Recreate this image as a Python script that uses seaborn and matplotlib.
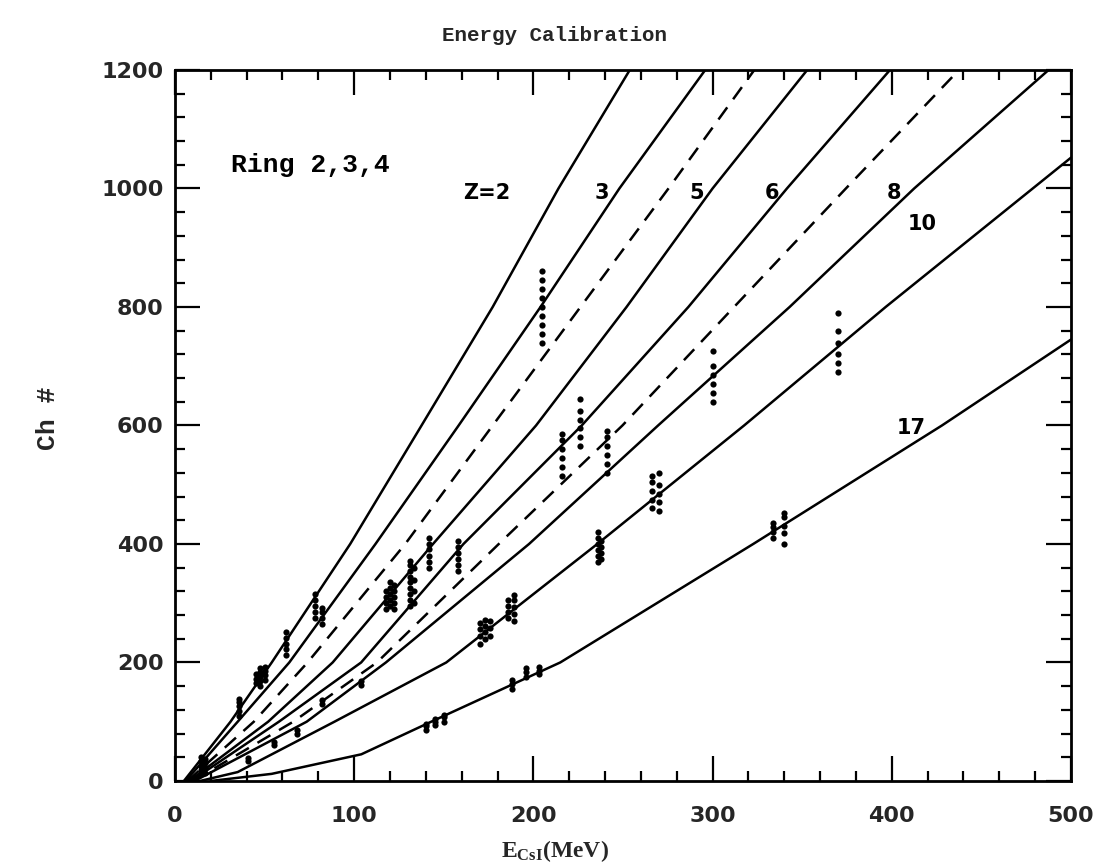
import matplotlib
matplotlib.use("Agg")
import matplotlib.pyplot as plt
import seaborn as sns
import pandas as pd
from matplotlib.ticker import MultipleLocator

# ---------------- data ----------------
CH_LEVELS = [0, 100, 200, 400, 600, 800, 1000, 1200]
E_Z2 = [5, 31, 54, 97.8, 137.6, 177.3, 214, 253.8]
E_Z3 = [6, 35, 63.8, 111.9, 158.3, 204, 248, 295.9]
E_Z4 = [7, 44, 74, 128.5, 177.3, 226.3, 275.4, 323.3]      # dashed
E_Z5 = [8, 52, 88, 144, 201.5, 252, 300, 352.8]
E_Z6 = [9, 58, 103.9, 161, 227, 286.5, 341.5, 399]
E_Z7 = [10, 66, 112.7, 180.7, 249.7, 312, 374.4, 437.5]    # dashed
E_Z8 = [11, 73.5, 117.7, 197.6, 269.6, 343, 412.5, 487.5]
E_Z10 = [14, 35, 89, 151.4, 235.7, 317.6, 396.6, 500]
CH_Z10 = [0, 15, 100, 200, 400, 600, 800, 1052]
E_Z17 = [20, 54, 104, 143, 215, 322.7, 428, 500]
CH_Z17 = [0, 12, 45, 100, 200, 400, 600, 745]

# measured calibration points: energy -> list of channel values
DATA_E = [14.5, 16.5, 36, 40.5, 45, 47.5, 50, 55, 62, 68, 78, 82, 82, 104,
          118, 120, 122, 131, 133.5, 140, 142, 145, 150, 158, 170, 173, 176,
          186, 188, 189, 196, 203, 205, 216, 226, 236, 238, 241, 266, 270,
          300, 334, 340, 370]
DATA_CH = [[18, 26, 34, 40], [14, 22, 30, 37], [110, 118, 126, 134, 138],
           [33, 38], [165, 172, 180], [160, 168, 176, 184, 190],
           [170, 178, 186, 193], [60, 66], [212, 222, 232, 242, 252], [80, 86],
           [275, 285, 295, 305, 315], [265, 275, 285, 292], [130, 136],
           [162, 168], [290, 300, 310, 320], [295, 305, 315, 325, 335],
           [290, 300, 310, 320, 330],
           [295, 305, 315, 325, 335, 345, 355, 365, 372], [300, 320, 340, 360],
           [86, 92, 96], [360, 370, 380, 392, 400, 410], [95, 100, 105],
           [100, 108, 112], [355, 365, 375, 385, 395, 405],
           [232, 244, 256, 266], [240, 252, 262, 272], [245, 258, 270],
           [275, 285, 295, 305], [156, 164, 170], [270, 282, 294, 306, 314],
           [176, 184, 190], [180, 186, 192],
           [740, 755, 770, 785, 800, 815, 830, 845, 860],
           [515, 530, 545, 560, 575, 585], [565, 580, 595, 610, 625, 645],
           [370, 380, 390, 400, 410, 420], [375, 385, 395, 405],
           [520, 535, 550, 565, 580, 590], [460, 475, 490, 505, 515],
           [455, 470, 485, 500, 520], [640, 655, 670, 685, 700, 725],
           [410, 420, 428, 435], [400, 418, 430, 445, 452],
           [690, 705, 720, 740, 760, 790]]

CURVE_LABELS = ["Z=2", "3", "5", "6", "8", "10", "17"]
LABEL_E = [174, 238, 291, 333, 401, 417, 411]
LABEL_CH = [993, 993, 993, 993, 993, 940, 596]

# ---------------- style ----------------
sns.set_style("ticks")
plt.rcParams["font.family"] = ["DejaVu Sans"]
plt.rcParams["mathtext.fontset"] = "custom"
plt.rcParams["mathtext.rm"] = "Liberation Serif"
plt.rcParams["mathtext.bf"] = "Liberation Serif:bold"

fig = plt.figure(figsize=(10.99, 8.66), dpi=100)
ax = fig.add_axes([0.1592, 0.0982, 0.8153, 0.821])

curves = [
    (E_Z2, CH_LEVELS, "-"), (E_Z3, CH_LEVELS, "-"), (E_Z4, CH_LEVELS, "--"),
    (E_Z5, CH_LEVELS, "-"), (E_Z6, CH_LEVELS, "-"), (E_Z7, CH_LEVELS, "--"),
    (E_Z8, CH_LEVELS, "-"), (E_Z10, CH_Z10, "-"), (E_Z17, CH_Z17, "-"),
]
for e, ch, ls in curves:
    df = pd.DataFrame({"E": e, "Ch": ch})
    sns.lineplot(data=df, x="E", y="Ch", ax=ax, color="black",
                 linewidth=1.8, sort=False, estimator=None)
    if ls == "--":
        ax.lines[-1].set_linestyle((0, (6, 4)))

pts = pd.DataFrame([(e, c) for e, cs in zip(DATA_E, DATA_CH) for c in cs],
                   columns=["E", "Ch"])
sns.scatterplot(data=pts, x="E", y="Ch", ax=ax, color="black", s=20,
                edgecolor="black", linewidth=0, zorder=5)

for t, x, y in zip(CURVE_LABELS, LABEL_E, LABEL_CH):
    ax.text(x, y, t, fontsize=15, ha="center", va="center",
            family="DejaVu Sans", fontweight="semibold", color="black")

ax.text(31, 1040, "Ring 2,3,4", fontsize=19, family="Liberation Mono",
        fontweight="bold", ha="left", va="center", color="black")

ax.set_xlim(0, 500)
ax.set_ylim(0, 1200)
ax.xaxis.set_major_locator(MultipleLocator(100))
ax.xaxis.set_minor_locator(MultipleLocator(20))
ax.yaxis.set_major_locator(MultipleLocator(200))
ax.yaxis.set_minor_locator(MultipleLocator(40))
ax.tick_params(which="both", direction="in", top=True, right=True,
               color="black", width=1.6)
ax.tick_params(which="major", length=18)
ax.tick_params(axis="x", which="major", pad=18)
ax.tick_params(axis="y", which="major", pad=8)
ax.tick_params(which="minor", length=7)
for lab in ax.get_xticklabels() + ax.get_yticklabels():
    lab.set_fontweight("bold")
    lab.set_family("DejaVu Sans")
    lab.set_fontsize(16)
for s in ax.spines.values():
    s.set_linewidth(2.0)
    s.set_color("black")

ax.set_xlabel(r"$\mathbf{E_{CsI}}$(MeV)", fontsize=17,
              family="Liberation Serif", fontweight="bold")
ax.xaxis.set_label_coords(0.424, -0.08)
ax.set_ylabel("Ch #", fontsize=19, family="Liberation Mono",
              fontweight="bold")
ax.yaxis.set_label_coords(-0.128, 0.51)
ax.set_title("Energy Calibration", fontsize=15, family="Liberation Mono",
             fontweight="bold", pad=21, x=0.424)

fig.savefig("out.png", dpi=100)
